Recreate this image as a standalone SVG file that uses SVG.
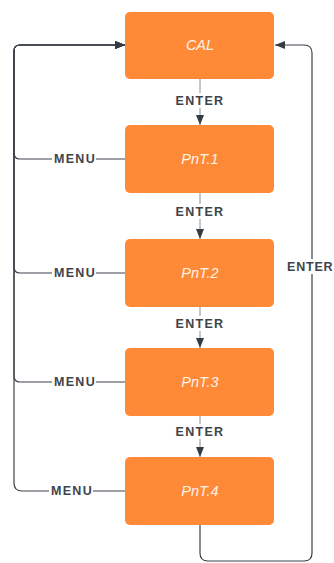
<svg xmlns="http://www.w3.org/2000/svg" width="334" height="563" viewBox="0 0 334 563">
  <defs>
    <marker id="arrow" viewBox="0 0 10 8" refX="10" refY="4" markerWidth="10" markerHeight="8" markerUnits="userSpaceOnUse" orient="auto">
      <path d="M0,0 L10,4 L0,8 Z" fill="#353b43"/>
    </marker>
    <style>
      .node rect { fill: #fe8a37; }
      .node text { font-family: "Liberation Sans", Arial, sans-serif; font-size: 14.5px; font-style: italic; fill: #fff4ea; text-anchor: middle; dominant-baseline: central; }
      .edge { fill: none; stroke: #3c424a; stroke-width: 1.2; }
      .edge.light { stroke: #8a8f96; stroke-width: 1; }
      .lbl rect { fill: #ffffff; }
      .lbl text { font-family: "Liberation Sans", Arial, sans-serif; font-size: 12.5px; font-weight: bold; letter-spacing: 1.3px; fill: #3e444c; text-anchor: middle; dominant-baseline: central; }
      .lbl text.edge-right { text-anchor: start; letter-spacing: 0.8px; }
    </style>
  </defs>
  <rect width="334" height="563" fill="#ffffff"/>

  <g id="connectors">
    <!-- ENTER chain down the middle -->
    <path class="edge light" d="M200,79 V125" marker-end="url(#arrow)"/>
    <path class="edge light" d="M200,193 V239" marker-end="url(#arrow)"/>
    <path class="edge light" d="M200,307 V348" marker-end="url(#arrow)"/>
    <path class="edge light" d="M200,416 V457" marker-end="url(#arrow)"/>
    <!-- MENU returns on the left -->
    <path class="edge" d="M125,159 H20 Q14,159 14,153 V51 Q14,45 20,45 H125" marker-end="url(#arrow)"/>
    <path class="edge" d="M125,273 H20 Q14,273 14,267 V51 Q14,45 20,45 H125" marker-end="url(#arrow)"/>
    <path class="edge" d="M125,382 H20 Q14,382 14,376 V51 Q14,45 20,45 H125" marker-end="url(#arrow)"/>
    <path class="edge" d="M125,491 H22 Q14,491 14,483 V51 Q14,45 20,45 H125" marker-end="url(#arrow)"/>
    <!-- ENTER return on the right -->
    <path class="edge" d="M200,525 V553 Q200,561 208,561 H304 Q312,561 312,553 V53 Q312,45 304,45 H275" marker-end="url(#arrow)"/>

    <g class="lbl">
      <rect x="175" y="93" width="50" height="15"/>
      <text x="200" y="101">ENTER</text>
      <rect x="175" y="204" width="50" height="15"/>
      <text x="200" y="212">ENTER</text>
      <rect x="175" y="316" width="50" height="15"/>
      <text x="200" y="324">ENTER</text>
      <rect x="175" y="424" width="50" height="15"/>
      <text x="200" y="432">ENTER</text>
      <rect x="52" y="151" width="44" height="15"/>
      <text x="75" y="159">MENU</text>
      <rect x="52" y="265" width="44" height="15"/>
      <text x="75" y="273">MENU</text>
      <rect x="52" y="374" width="44" height="15"/>
      <text x="75" y="382">MENU</text>
      <rect x="49" y="483" width="44" height="15"/>
      <text x="72" y="491">MENU</text>
      <rect x="285" y="259" width="49" height="15"/>
      <text class="edge-right" x="287" y="267">ENTER</text>
    </g>
  </g>

  <g id="node-cal" class="node">
    <rect x="125" y="12" width="149" height="67" rx="5"/>
    <text x="200" y="45">CAL</text>
  </g>
  <g id="node-pnt1" class="node">
    <rect x="125" y="125" width="149" height="68" rx="5"/>
    <text x="200" y="159">PnT.1</text>
  </g>
  <g id="node-pnt2" class="node">
    <rect x="125" y="239" width="149" height="68" rx="5"/>
    <text x="200" y="273">PnT.2</text>
  </g>
  <g id="node-pnt3" class="node">
    <rect x="125" y="348" width="149" height="68" rx="5"/>
    <text x="200" y="382">PnT.3</text>
  </g>
  <g id="node-pnt4" class="node">
    <rect x="125" y="457" width="149" height="68" rx="5"/>
    <text x="200" y="491">PnT.4</text>
  </g>
</svg>
